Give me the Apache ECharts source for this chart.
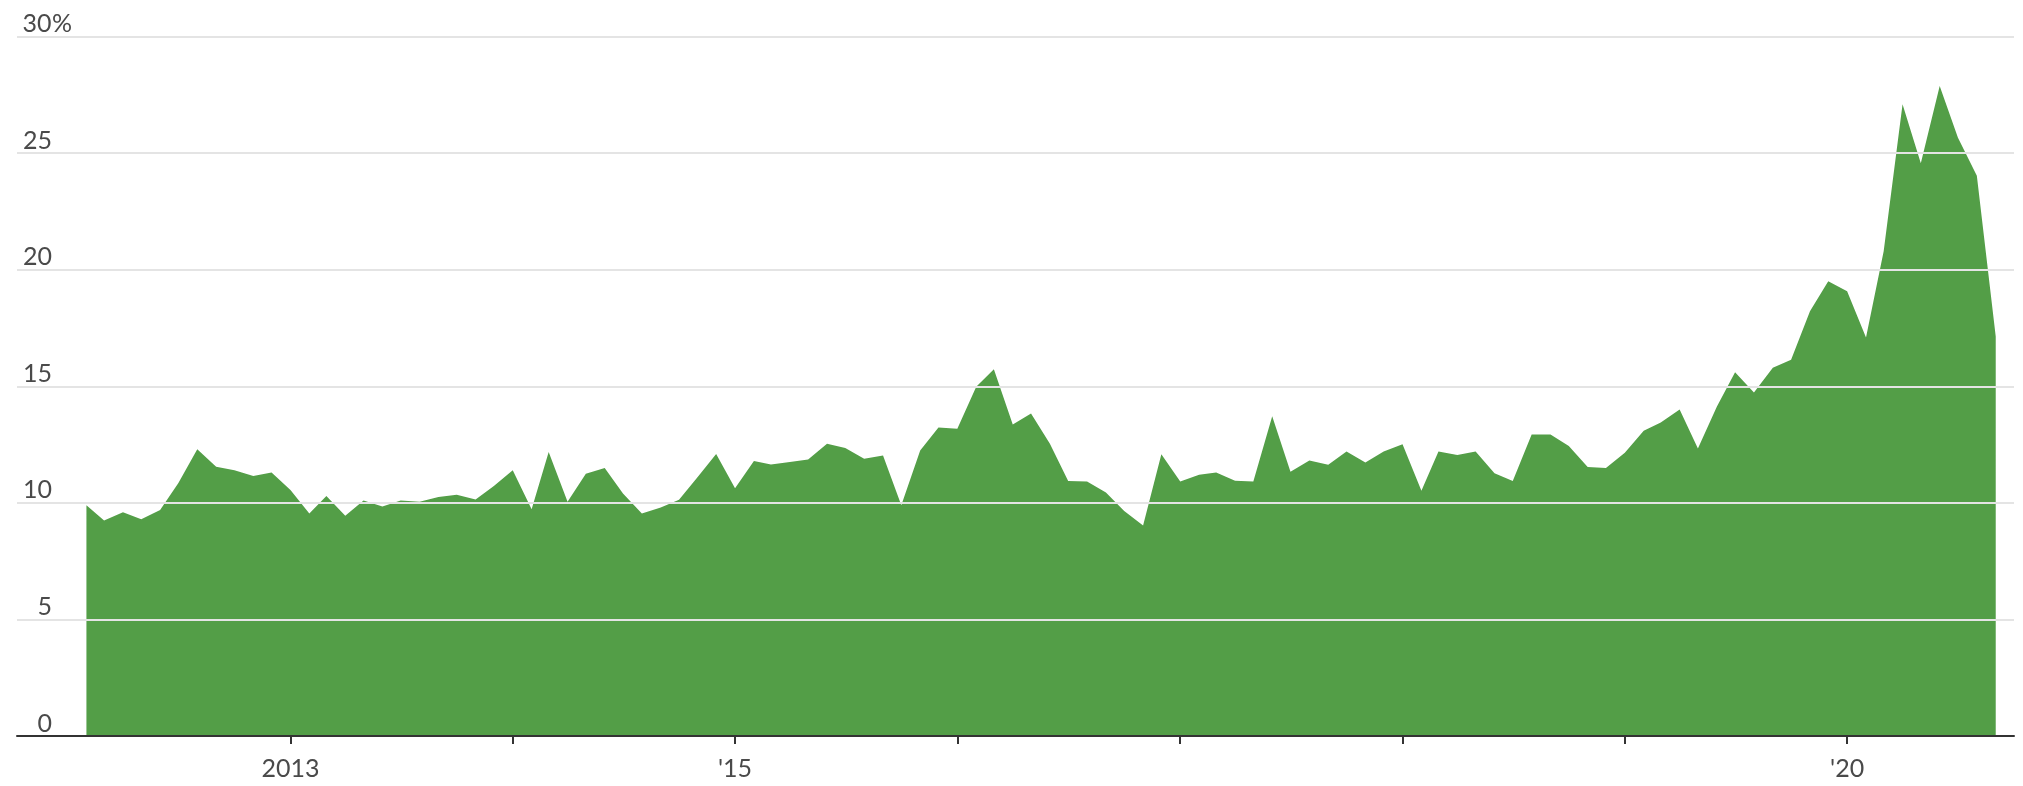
<!DOCTYPE html>
<html>
<head>
<meta charset="utf-8">
<script src="https://cdn.jsdelivr.net/npm/echarts@6/dist/echarts.min.js"></script>
<style>
  html, body { margin: 0; padding: 0; background: #ffffff; }
  #chart { width: 2023px; height: 786px; }
</style>
</head>
<body>
<div id="chart"></div>
<script>
// Monthly observations, starting February 2012 and ending September 2020
const startYear = 2012;
const startMonth = 2;
const values = [
  9.9, 9.25, 9.6, 9.3, 9.7, 10.85, 12.3, 11.55, 11.4, 11.15, 11.3,          // 2012 Feb-Dec
  10.55, 9.55, 10.3, 9.45, 10.1, 9.85, 10.1, 10.05, 10.25, 10.35, 10.15, 10.73, // 2013
  11.4, 9.73, 12.18, 10.05, 11.25, 11.5, 10.4, 9.55, 9.8, 10.13, 11.12, 12.1,   // 2014
  10.63, 11.8, 11.65, 11.75, 11.86, 12.54, 12.35, 11.89, 12.03, 9.9, 12.25, 13.23, // 2015
  13.18, 14.98, 15.73, 13.36, 13.83, 12.54, 10.94, 10.92, 10.45, 9.65, 9.03, 12.09, // 2016
  10.92, 11.21, 11.3, 10.95, 10.92, 13.72, 11.34, 11.82, 11.64, 12.2, 11.73, 12.2,  // 2017
  12.52, 10.52, 12.2, 12.05, 12.2, 11.27, 10.94, 12.93, 12.93, 12.44, 11.54, 11.5,  // 2018
  12.15, 13.09, 13.45, 14.01, 12.33, 14.12, 15.6, 14.74, 15.8, 16.14, 18.22, 19.51, // 2019
  19.08, 17.1, 20.8, 27.1, 24.57, 27.89, 25.66, 24.04, 17.14                        // 2020 Jan-Sep
];
const yTicks = [0, 5, 10, 15, 20, 25, 30];
const tickYears = [2013, 2014, 2015, 2016, 2017, 2018, 2019, 2020];
const xLabels = { 2013: '2013', 2015: "'15", 2020: "'20" };
const xMin = Date.UTC(2011, 9, 10);
const xMax = Date.UTC(2020, 9, 1);

function monthTime(i) {
  const m0 = startMonth - 1 + i;
  return Date.UTC(startYear + Math.floor(m0 / 12), m0 % 12, 1);
}
const seriesData = values.map((v, i) => [monthTime(i), v]);
const tickValues = tickYears.map(y => Date.UTC(y, 0, 1));
const labelValues = Object.keys(xLabels).map(y => Date.UTC(+y, 0, 1));

const chart = echarts.init(document.getElementById('chart'), null, { renderer: 'canvas' });
const FONT = 'Lato, "Noto Sans", sans-serif';

chart.setOption({
  animation: false,
  backgroundColor: '#ffffff',
  grid: { left: 17, right: 9, top: 36.7, bottom: 50, containLabel: false },
  xAxis: {
    type: 'value',
    min: xMin,
    max: xMax,
    scale: true,
    z: 5,
    axisLine: { show: true, onZero: false, lineStyle: { color: '#333333', width: 2 } },
    axisTick: { show: true, length: 8, customValues: tickValues, lineStyle: { color: '#333333', width: 2 } },
    splitLine: { show: false },
    axisLabel: {
      show: true,
      margin: 20,
      customValues: labelValues,
      color: '#4a4a4a',
      fontFamily: FONT,
      fontSize: 25,
      hideOverlap: false,
      formatter: function (val) {
        const d = new Date(val);
        if (d.getUTCMonth() !== 0 || d.getUTCDate() !== 1) return '';
        return xLabels[d.getUTCFullYear()] || '';
      }
    }
  },
  yAxis: {
    type: 'value',
    min: yTicks[0],
    max: yTicks[yTicks.length - 1],
    interval: yTicks[1] - yTicks[0],
    z: 4,
    axisLine: { show: false },
    axisTick: { show: false },
    splitLine: { show: true, lineStyle: { color: '#e4e4e4', width: 2 } },
    axisLabel: {
      inside: true,
      margin: 5,
      verticalAlign: 'bottom',
      align: 'left',
      color: '#4a4a4a',
      fontFamily: FONT,
      fontSize: 25,
      formatter: function (v) {
        return v === yTicks[yTicks.length - 1] ? '{n|' + v + '}{p|%}' : '{n|' + v + '}';
      },
      rich: {
        n: { width: 30, align: 'right', color: '#4a4a4a', fontFamily: FONT, fontSize: 25 },
        p: { color: '#4a4a4a', fontFamily: FONT, fontSize: 25 }
      }
    }
  },
  series: [{
    type: 'line',
    data: seriesData,
    showSymbol: false,
    symbol: 'none',
    smooth: false,
    z: 2,
    lineStyle: { width: 0, color: '#539e47' },
    areaStyle: { color: '#539e47', opacity: 1, origin: 'start' }
  }]
});
</script>
</body>
</html>
